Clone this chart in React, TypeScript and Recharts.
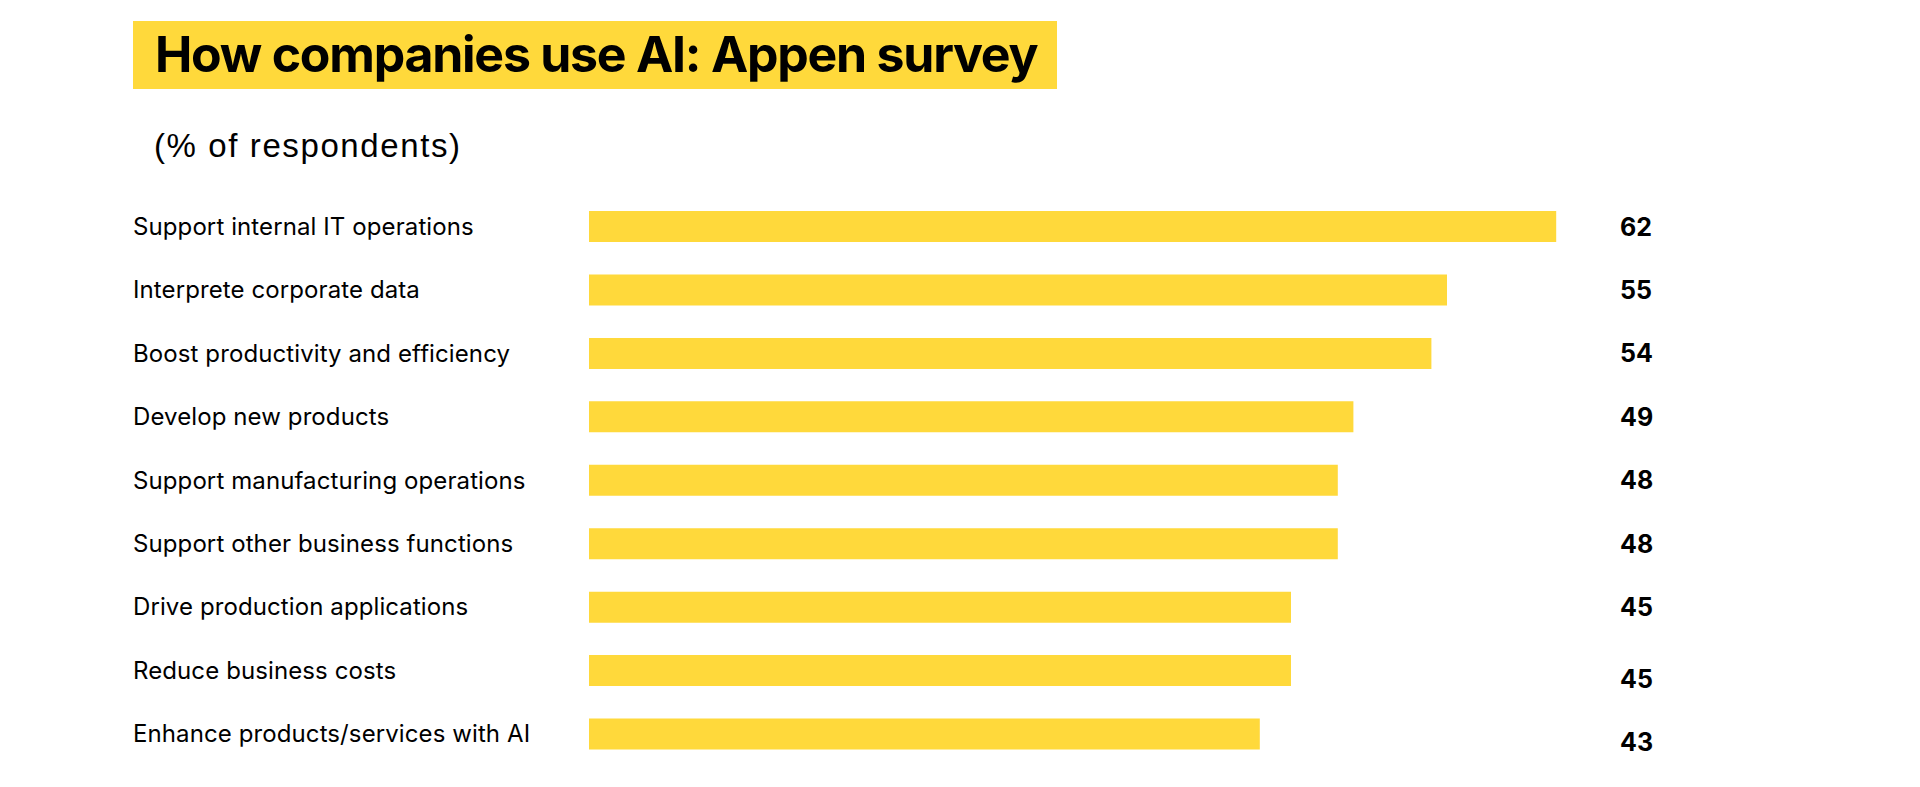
import React from "react";
import { BarChart, Bar, XAxis, YAxis, LabelList } from "recharts";

const categories = [
  "Support internal IT operations",
  "Interprete corporate data",
  "Boost productivity and efficiency",
  "Develop new products",
  "Support manufacturing operations",
  "Support other business functions",
  "Drive production applications",
  "Reduce business costs",
  "Enhance products/services with AI",
];

const shares = [62, 55, 54, 49, 48, 48, 45, 45, 43];

const title = "How companies use AI: Appen survey";
const subtitle = "(% of respondents)";

const YELLOW = "#FFD93B";
const FONT = "Inter, 'Noto Sans', sans-serif";

const data = categories.map((name, i) => ({ name, value: shares[i] }));

// the last two value labels sit a little lower in the original
const labelNudge: Record<number, number> = { 7: 8, 8: 8 };

function CategoryTick(props: any) {
  const { y, payload } = props;
  return (
    <text
      x={133}
      y={y - 0.5}
      dominantBaseline="central"
      textAnchor="start"
      fontFamily={FONT}
      fontSize={24}
      letterSpacing={0.1}
      fill="#000"
    >
      {payload.value}
    </text>
  );
}

function ValueLabel(props: any) {
  const { y, height, value, index } = props;
  const dy = labelNudge[index] ?? 0;
  return (
    <text
      x={1620}
      y={y + height / 2 + dy}
      dominantBaseline="central"
      textAnchor="start"
      fontFamily={FONT}
      fontWeight={700}
      fontSize={25}
      fill="#000"
    >
      {value}
    </text>
  );
}

export default function App() {
  return (
    <div
      style={{
        position: "absolute",
        left: 0,
        top: 0,
        width: 1920,
        height: 787,
        background: "#fff",
        fontFamily: FONT,
      }}
    >
      <div
        style={{
          position: "absolute",
          left: 133,
          top: 21,
          width: 924,
          height: 68,
          background: YELLOW,
        }}
      />
      <div
        style={{
          position: "absolute",
          left: 155,
          top: 20,
          height: 68,
          lineHeight: "68px",
          fontSize: 50,
          fontWeight: 700,
          color: "#000",
          letterSpacing: -1.25,
          whiteSpace: "nowrap",
        }}
      >
        {title}
      </div>
      <div
        style={{
          position: "absolute",
          left: 154,
          top: 129,
          fontFamily: "'Liberation Sans', Arial, sans-serif",
          fontSize: 33,
          lineHeight: "33px",
          letterSpacing: 1.6,
          color: "#000",
          whiteSpace: "nowrap",
        }}
      >
        {subtitle}
      </div>
      <div style={{ position: "absolute", left: 0, top: 0 }}>
        <BarChart
          width={1920}
          height={787}
          data={data}
          layout="vertical"
          margin={{ top: 195, right: 83, bottom: 21, left: 0 }}
        >
          <XAxis type="number" domain={[0, 80]} hide />
          <YAxis
            type="category"
            dataKey="name"
            width={589}
            axisLine={false}
            tickLine={false}
            tick={<CategoryTick />}
            interval={0}
          />
          <Bar dataKey="value" fill={YELLOW} barSize={31} isAnimationActive={false}>
            <LabelList dataKey="value" content={<ValueLabel />} />
          </Bar>
        </BarChart>
      </div>
    </div>
  );
}
